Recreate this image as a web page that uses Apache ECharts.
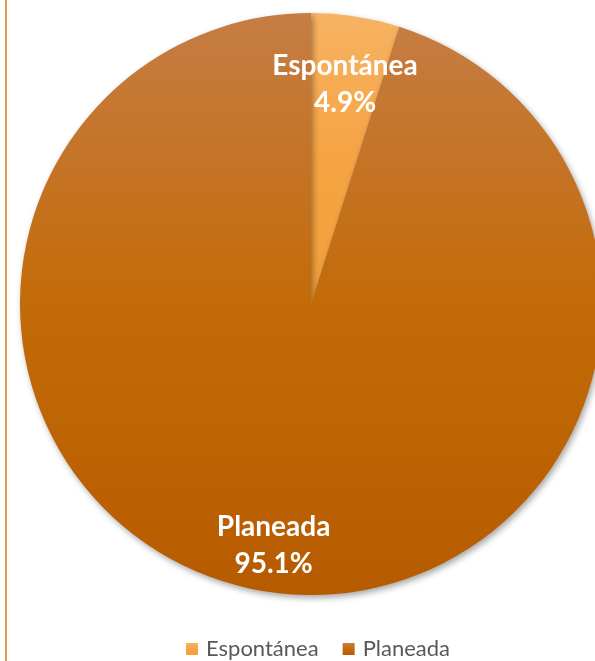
<!DOCTYPE html>
<html><head><meta charset="utf-8">
<script src="https://cdn.jsdelivr.net/npm/echarts@6/dist/echarts.min.js"></script>
<style>html,body{margin:0;padding:0;background:#fff}#c{width:595px;height:661px}</style>
</head><body><div id="c"></div>
<script>
const categories = ['Espontánea', 'Planeada'];
const values = [4.9, 95.1];
const topColors = ['#F8B262', '#C67D45'];
const midColors = ['#F5A443', '#C36B08'];
const bottomColors = ['#F2A03A', '#B65B00'];

const chart = echarts.init(document.getElementById('c'), null, {renderer: 'canvas'});
const R = 291;
const center = [311, 304];
const labelRadiusFactor = [1.505, 1.656];
const grad = i => ({
  type: 'linear', x: 0, y: 0, x2: 0, y2: 1,
  colorStops: [{offset: 0, color: topColors[i]}, {offset: 0.5, color: midColors[i]}, {offset: 1, color: bottomColors[i]}]
});
const data = categories.map((n, i) => ({name: n, value: values[i], itemStyle: {color: grad(i)}}));
const font = 'Lato, "Open Sans", sans-serif';
const ghost = k => ({
  type: 'pie', center: center, radius: [0, R * labelRadiusFactor[k]], startAngle: 90, clockwise: true,
  silent: true, legendHoverLink: false,
  itemStyle: {color: 'rgba(0,0,0,0)'},
  labelLine: {show: false},
  emphasis: {disabled: true},
  data: categories.map((n, i) => ({
    name: n, value: values[i],
    label: {
      show: i === k, position: 'inside', color: '#fff', fontSize: 28, fontWeight: 'bold',
      fontFamily: font, lineHeight: 37,
      formatter: p => p.name + '\n' + p.value.toFixed(1) + '%'
    }
  }))
});
chart.setOption({
  animation: false,
  legend: {
    bottom: -4, left: 181, itemWidth: 12, itemHeight: 12, itemGap: 24,
    icon: 'rect',
    textStyle: {color: '#595959', fontSize: 22, fontFamily: font, padding: [0, 0, 0, 3]},
    data: categories.map((n, i) => ({name: n, itemStyle: {color: grad(i)}}))
  },
  graphic: [{
    type: 'rect', left: 5, top: 0, shape: {width: 2, height: 661},
    style: {fill: '#E09A48'}, silent: true
  }],
  series: [{
    type: 'pie', center: center, radius: [0, R], startAngle: 90, clockwise: true,
    label: {show: false}, labelLine: {show: false},
    itemStyle: {shadowBlur: 6, shadowColor: 'rgba(0,0,0,0.35)', shadowOffsetX: 2, shadowOffsetY: 3},
    emphasis: {disabled: true},
    data: data
  }, ghost(0), ghost(1)]
});
</script></body></html>
